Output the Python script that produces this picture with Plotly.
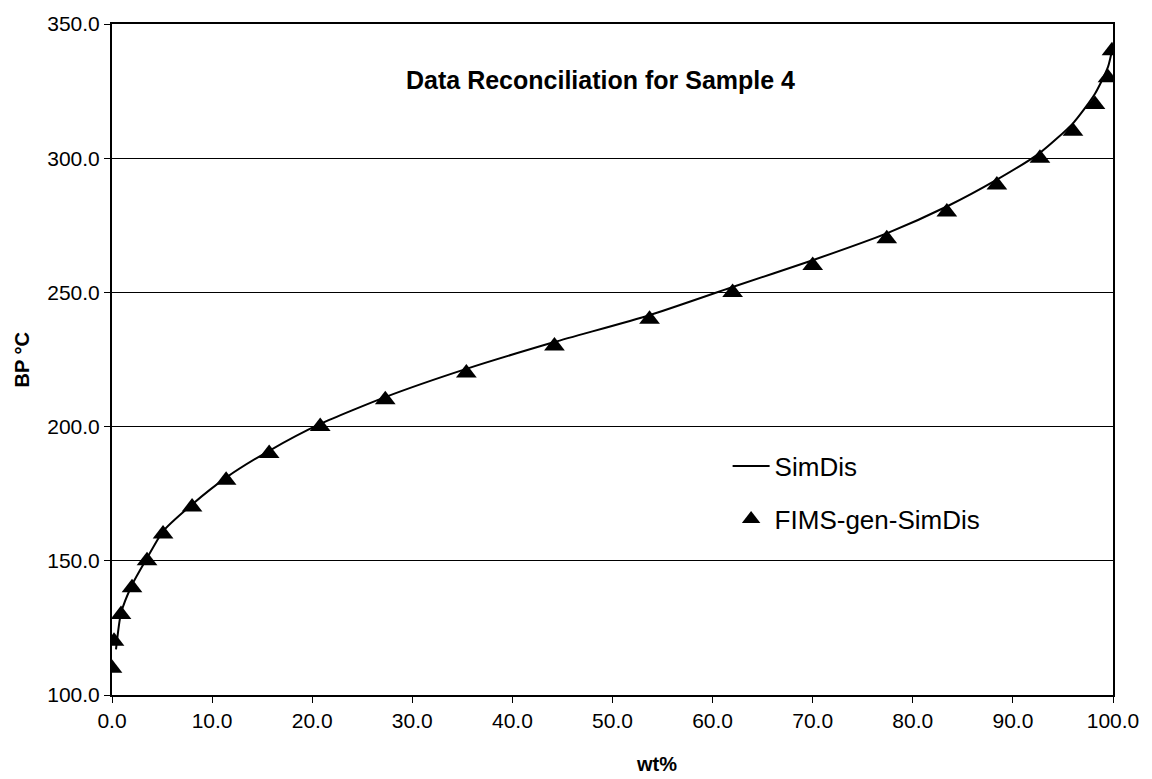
import plotly.graph_objects as go

# FIMS-gen-SimDis points (wt%, BP °C)
fims_wt = [0.0, 0.2, 0.9, 2.0, 3.5, 5.1, 8.0, 11.4, 15.7, 20.8, 27.3, 35.4, 44.2,
           53.7, 62.0, 70.0, 77.4, 83.4, 88.4, 92.7, 96.0, 98.2, 99.5, 99.9]
fims_bp = [110, 120, 130, 140, 150, 160, 170, 180, 190, 200, 210, 220, 230,
           240, 250, 260, 270, 280, 290, 300, 310, 320, 330, 340]

# SimDis curve (wt%, BP °C)
simdis_wt = [0.4, 0.9, 2.0, 3.5, 5.1, 8.0, 11.4, 15.7, 20.8, 27.3, 35.4, 44.2,
             53.7, 62.0, 70.0, 77.4, 83.4, 88.4, 92.7, 96.0, 98.2, 99.5, 100.0]
simdis_bp = [117, 130.5, 141, 151, 161, 171, 181, 191, 201, 211, 221.5, 231.5,
             241.5, 252, 262, 272, 282, 292, 302, 313, 324, 334, 342]

x_ticks = [0, 10, 20, 30, 40, 50, 60, 70, 80, 90, 100]
y_ticks = [100, 150, 200, 250, 300, 350]

FONT = "Liberation Sans, Arial, sans-serif"

fig = go.Figure()
fig.add_trace(go.Scatter(
    x=simdis_wt, y=simdis_bp, mode="lines", name="SimDis",
    line=dict(color="black", width=2, shape="spline", smoothing=0.6),
    legendgroup="a",
))
fig.add_trace(go.Scatter(
    x=fims_wt, y=fims_bp, mode="markers", name="FIMS-gen-SimDis",
    marker=dict(symbol="triangle-up", size=18, color="black"),
    legendgroup="b",
))

fig.update_layout(
    width=1152, height=779,
    margin=dict(l=112, r=39, t=17, b=84),
    paper_bgcolor="white", plot_bgcolor="white",
    font=dict(family=FONT, color="black", size=21),
    showlegend=True,
    legend=dict(
        x=0.615, y=0.376, xanchor="left", yanchor="top",
        bgcolor="rgba(0,0,0,0)", borderwidth=0,
        font=dict(size=26, family=FONT),
        traceorder="grouped", tracegroupgap=16,
        itemwidth=37,
    ),
    annotations=[
        dict(text="<b>Data Reconciliation for Sample 4</b>", x=0.4885, y=0.916,
             xref="paper", yref="paper", showarrow=False,
             xanchor="center", yanchor="middle",
             font=dict(size=25, family=FONT)),
        dict(text="<b>wt%</b>", x=(656 - 112) / 1001, y=(695 - 765) / 678,
             xref="paper", yref="paper", showarrow=False,
             xanchor="center", yanchor="middle",
             font=dict(size=20, family=FONT)),
        dict(text="<b>BP °C</b>", x=(22 - 112) / 1001, y=0.4985,
             xref="paper", yref="paper", showarrow=False, textangle=-90,
             xanchor="center", yanchor="middle",
             font=dict(size=20, family=FONT)),
    ],
)

fig.update_xaxes(
    range=[0, 100], tickvals=x_ticks, tickformat=".1f",
    showgrid=False, zeroline=False,
    showline=True, linecolor="black", linewidth=2, mirror=True,
    ticks="outside", ticklen=6, tickcolor="black", tickwidth=1,
    tickfont=dict(size=21, family=FONT),
)
fig.update_yaxes(
    range=[100, 350], tickvals=y_ticks, tickformat=".1f",
    showgrid=True, gridcolor="black", gridwidth=1, zeroline=False,
    showline=True, linecolor="black", linewidth=2, mirror=True,
    ticks="outside", ticklen=6, tickcolor="black", tickwidth=1,
    tickfont=dict(size=21, family=FONT),
)

fig.write_html("out.html")
